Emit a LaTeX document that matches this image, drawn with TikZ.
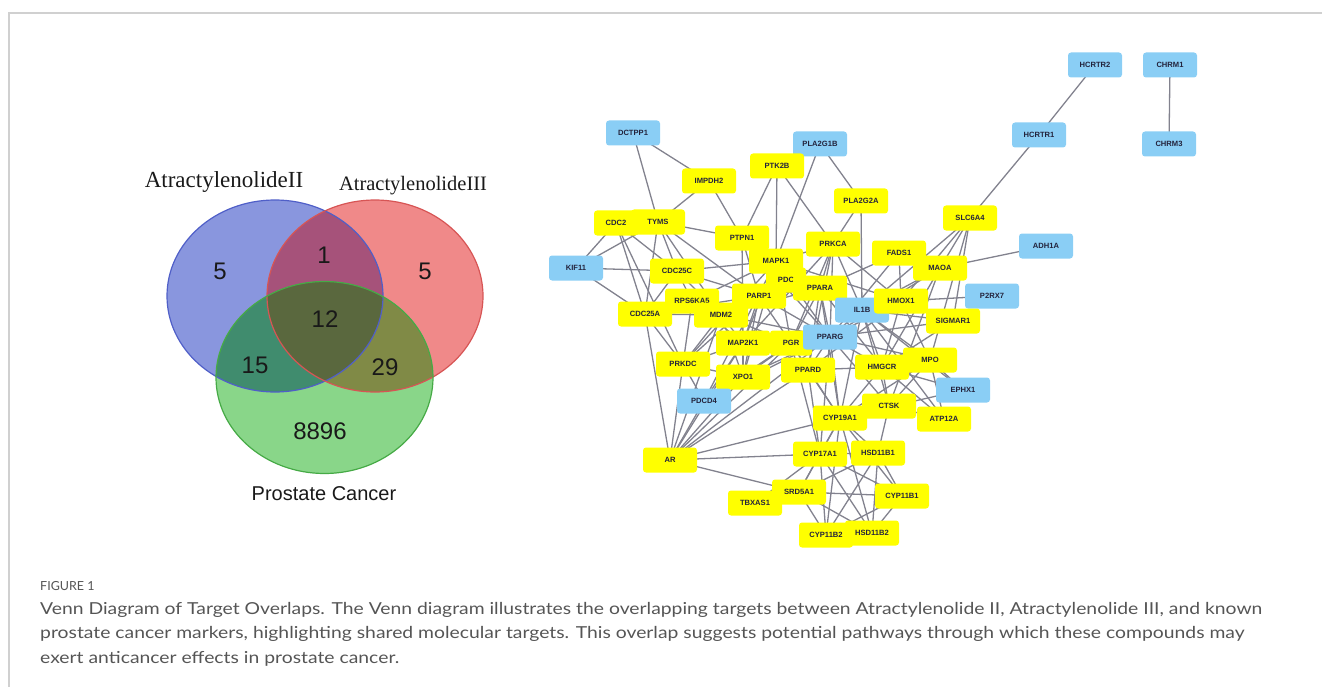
\documentclass[tikz,border=0pt]{standalone}
\usepackage{fontspec}
\setmainfont{Liberation Sans}
\newfontfamily\netfont{Liberation Sans}
\newfontfamily\vennserif{Liberation Serif}
\newfontfamily\capfont{Lato}
\usepackage{graphicx}
\pgfdeclarelayer{background}
\pgfsetlayers{background,main}
\definecolor{nodeyellow}{RGB}{255,255,0}
\definecolor{nodeblue}{RGB}{138,206,245}
\definecolor{edgegray}{RGB}{130,130,142}
\definecolor{nettext}{RGB}{35,35,60}
\definecolor{vB}{RGB}{137,150,222}
\definecolor{vR}{RGB}{240,137,137}
\definecolor{vG}{RGB}{137,214,137}
\definecolor{vBR}{RGB}{166,82,122}
\definecolor{vBG}{RGB}{64,140,110}
\definecolor{vRG}{RGB}{128,138,70}
\definecolor{vBRG}{RGB}{90,104,62}
\definecolor{vBline}{RGB}{80,95,200}
\definecolor{vRline}{RGB}{215,85,85}
\definecolor{vGline}{RGB}{70,170,70}
\definecolor{capgray}{RGB}{85,85,85}
\definecolor{framegray}{RGB}{208,208,208}
\definecolor{vtext}{RGB}{25,25,25}
\newsavebox\capboxA
\newlength\capL
\newcommand\capsize{\capfont\fontsize{16.5}{20}\selectfont}
\begin{document}
\sbox\capboxA{\capsize\color{capgray}Venn Diagram of Target Overlaps. The Venn diagram illustrates the overlapping targets between Atractylenolide II, Atractylenolide III, and known}%
\setlength\capL{\wd\capboxA}%
\pgfmathsetmacro\capsc{1222/\capL}%
\begin{tikzpicture}[x=1pt,y=-1pt,
  gene/.style={rounded corners=3pt, minimum width=54pt, minimum height=25pt, inner sep=0pt,
    font=\netfont\bfseries\fontsize{7.6}{9}\selectfont, text=nettext},
  ygene/.style={gene, fill=nodeyellow},
  bgene/.style={gene, fill=nodeblue},
  link/.style={draw=edgegray, line width=1.3pt},
  vnum/.style={font=\fontsize{24}{28}\selectfont, text=vtext, inner sep=0pt},
  vlabel/.style={inner sep=0pt, text=vtext, anchor=base},
  capline/.style={anchor=base west, inner sep=0pt, text=capgray}]
\useasboundingbox (0,0) rectangle (1322,687);
% frame
\draw[framegray, line width=1.2pt] (9,687) -- (9,13) -- (1322,13);

% ---------------- Venn diagram ----------------
\fill[vB] (275,296) ellipse [x radius=108, y radius=96];
\fill[vR] (375,296) ellipse [x radius=108, y radius=96];
\fill[vG] (324.5,377.5) ellipse [x radius=108.5, y radius=96];
\begin{scope}
  \clip (275,296) ellipse [x radius=108, y radius=96];
  \fill[vBR] (375,296) ellipse [x radius=108, y radius=96];
  \fill[vBG] (324.5,377.5) ellipse [x radius=108.5, y radius=96];
\end{scope}
\begin{scope}
  \clip (375,296) ellipse [x radius=108, y radius=96];
  \fill[vRG] (324.5,377.5) ellipse [x radius=108.5, y radius=96];
\end{scope}
\begin{scope}
  \clip (375,296) ellipse [x radius=108, y radius=96];
  \clip (324.5,377.5) ellipse [x radius=108.5, y radius=96];
  \fill[vBRG] (275,296) ellipse [x radius=108, y radius=96];
\end{scope}
\draw[vBline, line width=1.2pt] (275,296) ellipse [x radius=108, y radius=96];
\draw[vRline, line width=1.2pt] (375,296) ellipse [x radius=108, y radius=96];
\draw[vGline, line width=1.2pt] (324.5,377.5) ellipse [x radius=108.5, y radius=96];

\node[vlabel, font=\vennserif\fontsize{23}{26}\selectfont] (labII) at (224,188) {AtractylenolideII};
\node[vlabel, font=\vennserif\fontsize{20.5}{24}\selectfont] (labIII) at (413,191) {AtractylenolideIII};
\node[vlabel, font=\fontsize{20}{24}\selectfont] (labPC) at (324,500) {Prostate Cancer};
\node[vnum] (nB) at (220,271) {5};
\node[vnum] (nBR) at (324,255) {1};
\node[vnum] (nR) at (425,271) {5};
\node[vnum] (nBRG) at (325,319) {12};
\node[vnum] (nBG) at (255,365) {15};
\node[vnum] (nRG) at (385,367) {29};
\node[vnum] (nG) at (320,431) {8896};

% ---------------- Network ----------------
\node[bgene] (HCRTR2) at (1095,65) {HCRTR2};
\node[bgene] (CHRM1) at (1170,65) {CHRM1};
\node[bgene] (HCRTR1) at (1039,135) {HCRTR1};
\node[bgene] (CHRM3) at (1169,144) {CHRM3};
\node[bgene] (DCTPP1) at (633,133) {DCTPP1};
\node[bgene] (PLA2G1B) at (820,144) {PLA2G1B};
\node[ygene] (PTK2B) at (777,166) {PTK2B};
\node[ygene] (IMPDH2) at (709,181) {IMPDH2};
\node[ygene] (PLA2G2A) at (861,201) {PLA2G2A};
\node[ygene] (SLC6A4) at (970,218) {SLC6A4};
\node[ygene, minimum width=44pt] (CDC2) at (616,223) {CDC2};
\node[ygene] (TYMS) at (658,222) {TYMS};
\node[ygene] (PTPN1) at (742,238) {PTPN1};
\node[ygene] (PRKCA) at (833,244) {PRKCA};
\node[bgene] (ADH1A) at (1046,246) {ADH1A};
\node[ygene] (FADS1) at (899,253) {FADS1};
\node[ygene] (MAOA) at (940,268) {MAOA};
\node[bgene] (KIF11) at (576,268) {KIF11};
\node[ygene] (CDC25C) at (677,271) {CDC25C};
\node[ygene, minimum width=40pt] (PDC) at (786,280) {PDC};
\node[ygene] (MAPK1) at (776,261) {MAPK1};
\node[ygene] (RPS6KA5) at (692,301) {RPS6KA5};
\node[ygene] (PARP1) at (759,296) {PARP1};
\node[ygene] (PPARA) at (820,288) {PPARA};
\node[bgene] (P2RX7) at (992,296) {P2RX7};
\node[bgene] (IL1B) at (862,310) {IL1B};
\node[ygene] (HMOX1) at (901,301) {HMOX1};
\node[ygene] (CDC25A) at (645,314) {CDC25A};
\node[ygene] (MDM2) at (721,315) {MDM2};
\node[ygene] (SIGMAR1) at (953,321) {SIGMAR1};
\node[ygene] (MAP2K1) at (743,343) {MAP2K1};
\node[ygene, minimum width=42pt] (PGR) at (791,343) {PGR};
\node[bgene] (PPARG) at (830,337) {PPARG};
\node[ygene] (PRKDC) at (683,364) {PRKDC};
\node[ygene] (HMGCR) at (882,367) {HMGCR};
\node[ygene] (MPO) at (930,360) {MPO};
\node[ygene] (PPARD) at (808,370) {PPARD};
\node[ygene] (XPO1) at (743,377) {XPO1};
\node[bgene] (EPHX1) at (963,390) {EPHX1};
\node[bgene] (PDCD4) at (704,401) {PDCD4};
\node[ygene] (CYP19A1) at (840,418) {CYP19A1};
\node[ygene] (CTSK) at (889,406) {CTSK};
\node[ygene] (ATP12A) at (944,419) {ATP12A};
\node[ygene] (AR) at (670,460) {AR};
\node[ygene] (CYP17A1) at (820,454) {CYP17A1};
\node[ygene] (HSD11B1) at (878,453) {HSD11B1};
\node[ygene] (TBXAS1) at (755,503) {TBXAS1};
\node[ygene] (SRD5A1) at (799,492) {SRD5A1};
\node[ygene] (CYP11B1) at (902,496) {CYP11B1};
\node[ygene] (HSD11B2) at (872,533) {HSD11B2};
\node[ygene] (CYP11B2) at (826,535) {CYP11B2};

\begin{pgfonlayer}{background}
\foreach \a/\b in {HCRTR2/HCRTR1, CHRM1/CHRM3, HCRTR1/SLC6A4,
 DCTPP1/IMPDH2, DCTPP1/TYMS, IMPDH2/TYMS, IMPDH2/PTPN1,
 PTK2B/PTPN1, PTK2B/MAPK1, PTK2B/PRKCA,
 PLA2G1B/MAPK1, PLA2G1B/PLA2G2A, PLA2G2A/PRKCA, PLA2G2A/IL1B,
 CDC2/KIF11, CDC2/CDC25C, CDC2/CDC25A, CDC2/PRKDC,
 TYMS/KIF11, TYMS/PTPN1, TYMS/CDC25C, TYMS/PARP1, TYMS/CDC25A, TYMS/MDM2,
 KIF11/CDC25C, KIF11/CDC25A,
 CDC25C/MAPK1, CDC25C/PARP1, CDC25C/MDM2, CDC25C/CDC25A, CDC25C/RPS6KA5,
 PTPN1/PARP1, PTPN1/MAPK1, PTPN1/PPARG, PTPN1/MAP2K1,
 MAPK1/PRKCA, MAPK1/PPARA, MAPK1/MAP2K1, MAPK1/PDCD4, MAPK1/PPARG, MAPK1/IL1B, MAPK1/HMOX1,
 MAPK1/RPS6KA5, MAPK1/PGR, MAPK1/XPO1, MAPK1/PRKDC,
 PRKCA/PPARA, PRKCA/IL1B, PRKCA/PPARG, PRKCA/MAP2K1, PRKCA/PGR, PRKCA/PPARD, PRKCA/HMOX1,
 FADS1/PPARA, FADS1/HMOX1, FADS1/PPARG,
 SLC6A4/MAOA, SLC6A4/HMOX1, SLC6A4/SIGMAR1, SLC6A4/MPO, SLC6A4/IL1B,
 MAOA/ADH1A, MAOA/IL1B, MAOA/HMGCR, MAOA/PPARG, MAOA/CTSK,
 HMOX1/P2RX7, HMOX1/PPARG, HMOX1/MPO, HMOX1/HMGCR, HMOX1/PPARD,
 IL1B/SIGMAR1, IL1B/PPARG, IL1B/MPO, IL1B/CTSK, IL1B/HMGCR, IL1B/PPARA, IL1B/CYP19A1, IL1B/ATP12A, IL1B/EPHX1,
 SIGMAR1/PPARG, SIGMAR1/HMGCR,
 MPO/PPARG, MPO/EPHX1, MPO/ATP12A, MPO/CTSK, MPO/CYP19A1,
 EPHX1/HMGCR, EPHX1/CYP19A1, ATP12A/HMGCR, ATP12A/CTSK,
 PPARG/PPARA, PPARG/PGR, PPARG/PPARD, PPARG/CYP19A1, PPARG/HMGCR, PPARG/CTSK, PPARG/CYP17A1,
 PPARG/AR, PPARG/MAP2K1, PPARG/MDM2, PPARG/PARP1, PPARG/XPO1, PPARG/PDCD4,
 PPARA/PARP1, PPARA/PPARD, PPARA/HMGCR, PPARA/CYP19A1, PPARA/MDM2, PPARA/PGR,
 PARP1/MDM2, PARP1/XPO1, PARP1/PRKDC, PARP1/CDC25A, PARP1/PGR, PARP1/MAP2K1,
 MDM2/CDC25A, MDM2/XPO1, MDM2/PRKDC, MDM2/AR, MDM2/PGR, MDM2/MAP2K1,
 RPS6KA5/CDC25A, RPS6KA5/PRKDC, RPS6KA5/MAP2K1,
 CDC25A/PRKDC, CDC25A/AR,
 MAP2K1/PRKDC, MAP2K1/AR, MAP2K1/XPO1, MAP2K1/PDCD4,
 PGR/AR, PGR/PPARD, PGR/CYP19A1, PGR/CYP17A1, PGR/XPO1, PGR/PDCD4,
 PRKDC/XPO1, PRKDC/AR, PRKDC/PDCD4,
 XPO1/AR, XPO1/PDCD4, PDCD4/AR,
 PPARD/AR, PPARD/CYP19A1, PPARD/HMGCR, PPARD/CYP17A1,
 HMGCR/CTSK, HMGCR/CYP19A1, CTSK/CYP19A1, CTSK/HSD11B1,
 CYP19A1/CYP17A1, CYP19A1/HSD11B1, CYP19A1/SRD5A1, CYP19A1/CYP11B1, CYP19A1/CYP11B2, CYP19A1/HSD11B2, CYP19A1/AR,
 AR/CYP17A1, AR/SRD5A1,
 CYP17A1/HSD11B1, CYP17A1/SRD5A1, CYP17A1/CYP11B1, CYP17A1/CYP11B2, CYP17A1/HSD11B2, CYP17A1/TBXAS1,
 HSD11B1/SRD5A1, HSD11B1/CYP11B1, HSD11B1/CYP11B2, HSD11B1/HSD11B2,
 SRD5A1/CYP11B1, SRD5A1/CYP11B2, SRD5A1/HSD11B2,
 CYP11B1/CYP11B2, CYP11B1/HSD11B2}
 {\draw[link] (\a.center) -- (\b.center);}
\end{pgfonlayer}

% ---------------- Caption ----------------
\node[anchor=base west, inner sep=0pt, text=capgray, font=\capfont\fontsize{12.5}{14}\selectfont] (figlab) at (40,590) {FIGURE 1};
\node[capline] (capA) at (40,614) {\scalebox{\capsc}[1]{\usebox\capboxA}};
\node[capline] (capB) at (40,638) {\scalebox{\capsc}[1]{\capsize prostate cancer markers, highlighting shared molecular targets. This overlap suggests potential pathways through which these compounds may}};
\node[capline] (capC) at (40,663) {\scalebox{\capsc}[1]{\capsize exert anticancer effects in prostate cancer.}};
\end{tikzpicture}
\end{document}
